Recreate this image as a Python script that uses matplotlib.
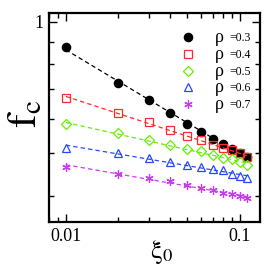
import numpy as np
import matplotlib
matplotlib.use("Agg")
import matplotlib.pyplot as plt
from matplotlib.ticker import NullFormatter, LogLocator

plt.rcParams['font.family'] = ['Liberation Serif', 'DejaVu Serif']
plt.rcParams['mathtext.fontset'] = 'stix'

# data
xi0 = [0.01, 0.02, 0.03, 0.04, 0.05, 0.06, 0.07, 0.08, 0.09, 0.10, 0.11]
f_03 = [0.875, 0.724, 0.662, 0.617, 0.582, 0.559, 0.540, 0.526, 0.512, 0.501, 0.490]
f_04 = [0.670, 0.617, 0.590, 0.565, 0.549, 0.535, 0.523, 0.513, 0.508, 0.500, 0.490]
f_05 = [0.582, 0.555, 0.537, 0.522, 0.511, 0.505, 0.495, 0.488, 0.484, 0.477, 0.471]
f_06 = [0.515, 0.501, 0.487, 0.478, 0.471, 0.465, 0.461, 0.457, 0.449, 0.443, 0.438]
f_07 = [0.465, 0.449, 0.439, 0.431, 0.424, 0.417, 0.411, 0.406, 0.403, 0.399, 0.394]
rho_labels = ['=0.3', '=0.4', '=0.5', '=0.6', '=0.7']

series = [f_03, f_04, f_05, f_06, f_07]
colors = ['black', '#ff2a2a', '#66ee00', '#2848ff', '#c83cf0']
markers = ['o', 's', 'D', '^', (6, 2, 0)]
msizes = [6, 5.2, 4.6, 6, 6]
fills = ['black', 'none', 'none', 'none', 'none']

fig = plt.figure(figsize=(2.73, 2.78), dpi=100)
ax = fig.add_axes([0.1795, 0.2014, 0.773, 0.752])

x = np.array(xi0)
handles = []
for y, c, m, ms, fc in zip(series, colors, markers, msizes, fills):
    # power-law fit drawn as dashed line
    p = np.polyfit(np.log(x), np.log(y), 1)
    ax.plot(x, np.exp(np.polyval(p, np.log(x))), ls=(0, (3.5, 2.5)), color=c, lw=0.9)
    h, = ax.plot(x, y, ls='none', marker=m, ms=ms, mfc=fc, mec=c, mew=0.9, color=c)
    handles.append(h)

ax.set_xscale('log')
ax.set_yscale('log')
ax.set_xlim(0.008, 0.131)
ax.set_ylim(0.348, 1.048)

ax.set_xticks([0.01, 0.1], labels=['0.01', '0.1'])
ax.set_yticks([1], labels=['1'])
ax.yaxis.set_minor_locator(LogLocator(subs=np.arange(2, 10)))
ax.xaxis.set_minor_locator(LogLocator(subs=np.arange(2, 10)))
ax.xaxis.set_minor_formatter(NullFormatter())
ax.yaxis.set_minor_formatter(NullFormatter())

ax.tick_params(which='both', direction='in', top=True, right=True, width=1.0,
               labelsize=13, pad=4)
ax.tick_params(which='major', length=6)
ax.tick_params(which='minor', length=3.5)
for s in ax.spines.values():
    s.set_linewidth(1.6)

ax.set_xlabel(r'$\mathrm{\xi}_{0}$', fontsize=19)
ax.xaxis.set_label_coords(0.533, -0.075)
ax.set_ylabel(r'$\mathrm{f}_{\mathrm{c}}$', fontsize=30)
ax.yaxis.set_label_coords(-0.016, 0.52)

leg = ax.legend(handles, rho_labels, loc='upper right', bbox_to_anchor=(0.957, 0.908),
                frameon=False, fontsize=8.5, handlelength=1.0, handletextpad=3.0,
                labelspacing=0.4, borderpad=0, borderaxespad=0)
for t in leg.get_texts():
    ax.annotate('ρ', xy=(0, 0), xycoords=t, xytext=(-4, -1.5),
                textcoords='offset points', ha='right', va='bottom', fontsize=13,
                zorder=10)

fig.savefig('out.png', dpi=100)
